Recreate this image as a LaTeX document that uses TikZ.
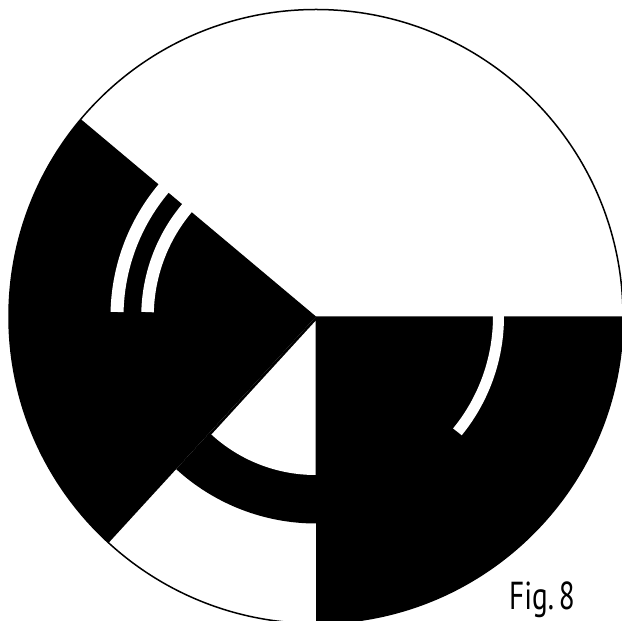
\documentclass[tikz,border=0pt]{standalone}
\usepackage{fontspec}
\newfontfamily\figfont{PT Sans}
\begin{document}
\begin{tikzpicture}[x=1pt,y=1pt]
\tikzset{
  gap/.style={draw=white, line width=#1, line cap=butt},
  rim/.style={draw=black, line width=1.5pt}
}
\useasboundingbox (0,0) rectangle (622,621);
\fill[white] (0,0) rectangle (622,621);
\coordinate (C) at (316,304.5);
\coordinate (A) at (315.5,300);
\begin{scope}
\clip (0,0) rectangle (622,621);
% black sectors
\fill[black] (C) -- ++(140:307) arc[start angle=140,end angle=227.5,radius=307] -- cycle;
\fill[black] (C) -- ++(270:307) arc[start angle=270,end angle=360,radius=307] -- cycle;
\fill[black] (C) -- ++(227.5:207) arc[start angle=227.5,end angle=270,radius=207] -- cycle;
% inner white sector
\fill[white] (A) -- ++(227.5:154) arc[start angle=227.5,end angle=270,radius=154] -- cycle;
% white arcs
\draw[gap=13pt] (C) ++(178.7:199) arc[start angle=178.7,end angle=136,radius=199];
\draw[gap=12.5pt] (C) ++(178.5:168.5) arc[start angle=178.5,end angle=136,radius=168.5];
\draw[gap=11pt] (C) ++(3:182.5) arc[start angle=3,end angle=-39.2,radius=182.5];
% rim
\draw[rim] (C) circle[radius=307];
\end{scope}
\node[anchor=base west, inner sep=0pt] (fig) at (509,11)
  {\figfont\fontsize{39}{39}\selectfont\scalebox{0.75}[1]{Fig.\,8}};
\end{tikzpicture}
\end{document}
